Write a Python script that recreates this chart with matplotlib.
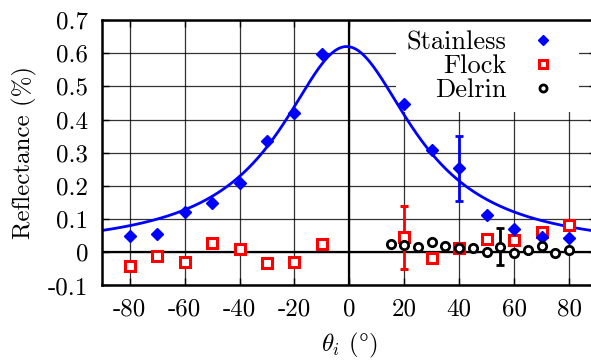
#!/usr/bin/env python3

import numpy as np
import matplotlib
matplotlib.use("Agg")
import matplotlib.pyplot as plt

# stainless steel
angStainless = [-80, -70, -60, -50, -40, -30, -20, -10, 20, 30, 40, 50, 60, 70, 80]
refStainless = [0.050, 0.055, 0.120, 0.148, 0.208, 0.334, 0.420, 0.599,
                0.448, 0.307, 0.253, 0.112, 0.069, 0.047, 0.042]
errStainless = [0, 0, 0, 0, 0, 0, 0, 0, 0, 0, 0.097, 0, 0, 0, 0]

# flock
angFlock = [-80, -70, -60, -50, -40, -30, -20, -10, 20, 30, 40, 50, 60, 70, 80]
refFlock = [-0.041, -0.012, -0.029, 0.028, 0.009, -0.033, -0.029, 0.024,
            0.046, -0.016, 0.012, 0.040, 0.038, 0.060, 0.081]
errFlock = [0, 0, 0, 0, 0, 0, 0, 0, 0.095, 0, 0, 0, 0, 0, 0]

# delrin
angDelrin = [15, 20, 25, 30, 35, 40, 45, 50, 55, 60, 65, 70, 75, 80]
refDelrin = [0.026, 0.022, 0.015, 0.030, 0.020, 0.012, 0.012, 0.002,
             0.017, -0.002, 0.007, 0.019, -0.002, 0.007]
errDelrin = [0, 0, 0, 0, 0, 0, 0, 0, 0.056, 0, 0, 0, 0, 0]

# lorentzian fit to stainless
fitAmp = 0.615
fitCenter = -1.0
fitWidth = 29.5
fitOffset = 0.005

xTicks = [-80, -60, -40, -20, 0, 20, 40, 60, 80]
yTicks = [-0.1, 0, 0.1, 0.2, 0.3, 0.4, 0.5, 0.6, 0.7]


def lorentz(x):
  return fitAmp / (1.0 + ((x - fitCenter) / fitWidth) ** 2) + fitOffset


def main():
  plt.rcParams['font.family'] = 'serif'
  plt.rcParams['font.serif'] = ['cmr10']
  plt.rcParams['mathtext.fontset'] = 'cm'
  plt.rcParams['axes.unicode_minus'] = False
  plt.rcParams['axes.formatter.use_mathtext'] = False
  plt.rcParams['font.size'] = 18

  fig = plt.figure(figsize=(5.91, 3.64), dpi=100)
  ax = fig.add_axes([0.1731, 0.2157, 0.8362, 0.7294])

  ax.set_xlim(-90, 90)
  ax.set_ylim(-0.1, 0.7)
  ax.set_xticks(xTicks)
  ax.set_yticks(yTicks)
  ax.set_xticklabels(["{:d}".format(t) for t in xTicks])
  ax.set_yticklabels(["{:g}".format(t) for t in yTicks])
  ax.grid(True, color='black', linewidth=0.9, alpha=0.8)
  ax.set_axisbelow(True)
  ax.axhline(0, color='black', linewidth=1.6, zorder=1.5)
  ax.axvline(0, color='black', linewidth=1.6, zorder=1.5)
  ax.tick_params(direction='in', top=True, right=True, length=5, width=1.0)
  ax.tick_params(axis='y', pad=10)
  ax.tick_params(axis='x', pad=9)
  for s in ax.spines.values():
    s.set_linewidth(1.8)

  xs = np.linspace(-90, 90, 400)
  ax.plot(xs, lorentz(xs), color='#0000ff', linewidth=2.0, zorder=2)

  errS = np.array(errStainless)
  errF = np.array(errFlock)
  errD = np.array(errDelrin)
  cS = ax.errorbar(angStainless, refStainless, yerr=np.where(errS > 0, errS, np.nan),
                   fmt='D', color='#0000ff', markersize=6, ecolor='#0000ff',
                   elinewidth=2, capsize=3, capthick=2, zorder=4)
  cF = ax.errorbar(angFlock, refFlock, yerr=np.where(errF > 0, errF, np.nan),
                   fmt='s', color='#ff0000', markerfacecolor='white', markeredgecolor='#ff0000',
                   markeredgewidth=2.2, markersize=6.5, ecolor='#ff0000',
                   elinewidth=2, capsize=3, capthick=2, zorder=3)
  cD = ax.errorbar(angDelrin, refDelrin, yerr=np.where(errD > 0, errD, np.nan),
                   fmt='o', color='black', markerfacecolor='white', markeredgecolor='black',
                   markeredgewidth=2.0, markersize=6, ecolor='black',
                   elinewidth=2, capsize=3, capthick=2, zorder=5)

  ax.set_xlabel(r'$\theta_i$ ($\degree$)', labelpad=8)
  ax.set_ylabel('Reflectance (%)', labelpad=8)

  leg = ax.legend([cS[0], cF[0], cD[0]], ['Stainless', 'Flock', 'Delrin'],
                  loc='upper right', bbox_to_anchor=(0.9646, 1.0), markerfirst=False,
                  frameon=True, fancybox=False, edgecolor='none', framealpha=1.0,
                  borderaxespad=0, borderpad=0.4, labelspacing=0.0, fontsize=19,
                  handletextpad=0.45, handlelength=1.9, markerscale=0.85)
  # key box sits over the grid but under the data, as in gnuplot
  leg.set_zorder(1.8)
  # right-align the legend rows like gnuplot does
  leg._legend_box._children[-1]._children[0].align = 'right'

  fig.savefig('out.png', dpi=100)


if __name__ == '__main__':
  main()
